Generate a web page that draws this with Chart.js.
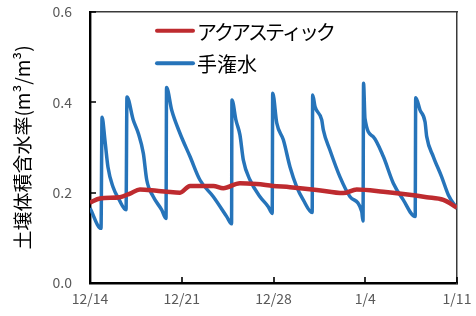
<!DOCTYPE html>
<html>
<head>
<meta charset="utf-8">
<script src="https://cdn.jsdelivr.net/npm/chart.js@4.4.1/dist/chart.umd.min.js"></script>
<style>
  body { margin: 0; background: #fff; }
</style>
</head>
<body>
<canvas id="soilChart" width="476" height="316"></canvas>
<script>
// days since 12/14
const xTickLabels = ['12/14', '12/21', '12/28', '1/4', '1/11'];

const aquaLabel = 'アクアスティック';
const aquaDays = [0, 0.76, 2.29, 3.05, 3.81, 5.09, 5.85, 6.87, 7.63, 9.41, 10.17, 11.44, 12.72, 13.96, 15.26, 17.3, 19.32, 20.35, 22.38, 23.9, 25.69, 26.96, 28];
const aquaValues = [0.178, 0.187, 0.19, 0.198, 0.207, 0.204, 0.202, 0.2, 0.215, 0.215, 0.21, 0.221, 0.219, 0.215, 0.212, 0.206, 0.199, 0.207, 0.202, 0.197, 0.19, 0.184, 0.167];

const handLabel = '手潅水';
const handDays = [0, 0.84, 0.92, 1.14, 1.37, 1.75, 2.21, 2.75,
  2.82, 3.3, 3.69, 4.07, 4.33, 4.83, 5.47, 5.8,
  5.84, 6.23, 6.87, 7.63, 8.39, 9.41, 10.43, 10.8,
  10.83, 11.14, 11.44, 11.7, 12.21, 12.97, 13.6, 13.9,
  13.94, 14.25, 14.75, 15.26, 15.77, 16.27, 16.95,
  16.99, 17.17, 17.68, 17.8, 18.31, 19.07, 19.84, 20.73, 20.83,
  20.87, 20.98, 21.61, 22.38, 23.14, 23.9, 24.81,
  24.85, 25.18, 25.56, 25.69, 26.19, 26.83, 27.34, 28];
const handValues = [0.166, 0.121, 0.367, 0.316, 0.257, 0.213, 0.185, 0.162,
  0.412, 0.361, 0.331, 0.287, 0.228, 0.191, 0.162, 0.143,
  0.433, 0.383, 0.331, 0.28, 0.228, 0.191, 0.147, 0.131,
  0.405, 0.36, 0.328, 0.272, 0.228, 0.191, 0.169, 0.154,
  0.42, 0.354, 0.317, 0.257, 0.213, 0.184, 0.156,
  0.416, 0.39, 0.361, 0.339, 0.294, 0.235, 0.191, 0.158, 0.137,
  0.442, 0.364, 0.324, 0.28, 0.221, 0.184, 0.147,
  0.41, 0.383, 0.357, 0.324, 0.28, 0.235, 0.195, 0.165];

const redColor = '#BE2B2F';
const blueColor = '#2674BA';
const fontFamily = '"Noto Sans CJK JP", "Noto Sans", sans-serif';

function toPoints(xs, ys) {
  return xs.map((x, i) => ({ x: x, y: ys[i] }));
}

// inward ticks and legend inside the plot
const legendPlugin = {
  id: 'innerLegend',
  afterDraw(chart) {
    const ctx = chart.ctx;
    const xs = chart.scales.x;
    const ys = chart.scales.y;
    const left = xs.getPixelForValue(xs.min);
    const bottom = ys.getPixelForValue(ys.min);
    ctx.save();
    ctx.strokeStyle = '#000';
    ctx.lineWidth = 1.6;
    ctx.beginPath();
    ys.ticks.forEach((t) => {
      const py = Math.round(ys.getPixelForValue(t.value));
      ctx.moveTo(left, py);
      ctx.lineTo(left + 6, py);
    });
    xs.ticks.forEach((t) => {
      const px = Math.round(xs.getPixelForValue(t.value));
      ctx.moveTo(px, bottom);
      ctx.lineTo(px, bottom - 6);
    });
    ctx.stroke();

    ctx.font = '20px ' + fontFamily;
    ctx.textBaseline = 'middle';
    chart.data.datasets.forEach((ds, i) => {
      const ly = 30.7 + i * 32.6;
      ctx.strokeStyle = ds.borderColor;
      ctx.lineWidth = 4;
      ctx.lineCap = 'round';
      ctx.beginPath();
      ctx.moveTo(157, ly);
      ctx.lineTo(193, ly);
      ctx.stroke();
      ctx.fillStyle = '#000';
      ctx.letterSpacing = i === 0 ? '-3px' : '0px';
      ctx.fillText(ds.label, 197, ly + 1.5);
    });
    ctx.restore();
  }
};

function generateChart() {
  const ctx = document.getElementById('soilChart').getContext('2d');

  new Chart(ctx, {
    type: 'line',
    data: {
      datasets: [{
        label: aquaLabel,
        data: toPoints(aquaDays, aquaValues),
        borderColor: redColor,
        backgroundColor: redColor,
        borderWidth: 4.5,
        pointRadius: 0,
        cubicInterpolationMode: 'monotone',
        fill: false
      },
      {
        label: handLabel,
        data: toPoints(handDays, handValues),
        borderColor: blueColor,
        backgroundColor: blueColor,
        borderWidth: 3.5,
        pointRadius: 0,
        cubicInterpolationMode: 'monotone',
        fill: false
      }]
    },
    options: {
      responsive: false,
      animation: false,
      layout: { padding: { top: 12, right: 19, left: 0, bottom: 0 } },
      plugins: {
        legend: { display: false },
        tooltip: { enabled: false }
      },
      scales: {
        x: {
          type: 'linear',
          min: 0,
          max: 28,
          grid: { display: false, drawTicks: false },
          border: { display: true, color: '#000', width: 2.4 },
          afterFit: (s) => { s.height = 33; s.paddingLeft = 0; s.paddingRight = 0; },
          ticks: {
            stepSize: 7,
            padding: 7,
            color: '#595959',
            font: { size: 14, family: fontFamily },
            maxRotation: 0,
            callback: (v) => xTickLabels[Math.round(v / 7)]
          }
        },
        xTop: {
          type: 'linear',
          position: 'top',
          min: 0,
          max: 28,
          grid: { display: false, drawTicks: false },
          border: { display: true, color: '#3a3a3a', width: 1.5 },
          ticks: { display: false },
          afterFit: (s) => { s.height = 0; s.paddingLeft = 0; s.paddingRight = 0; }
        },
        y: {
          min: 0,
          max: 0.6,
          grid: { display: false, drawTicks: false },
          border: { display: true, color: '#000', width: 2.4 },
          afterFit: (s) => { s.width = 90; s.paddingTop = 0; s.paddingBottom = 0; },
          ticks: {
            stepSize: 0.2,
            padding: 18,
            color: '#595959',
            font: { size: 14, family: fontFamily },
            callback: (v) => v.toFixed(1)
          },
          title: {
            display: true,
            text: '土壌体積含水率(m³/m³)',
            color: '#000',
            font: { size: 19, family: fontFamily },
            padding: { top: 11, bottom: 0 }
          }
        },
        yRight: {
          position: 'right',
          min: 0,
          max: 0.6,
          grid: { display: false, drawTicks: false },
          border: { display: true, color: '#3a3a3a', width: 1.5 },
          ticks: { display: false },
          afterFit: (s) => { s.width = 0; s.paddingTop = 0; s.paddingBottom = 0; }
        }
      }
    },
    plugins: [legendPlugin]
  });
}

generateChart();
</script>
</body>
</html>
